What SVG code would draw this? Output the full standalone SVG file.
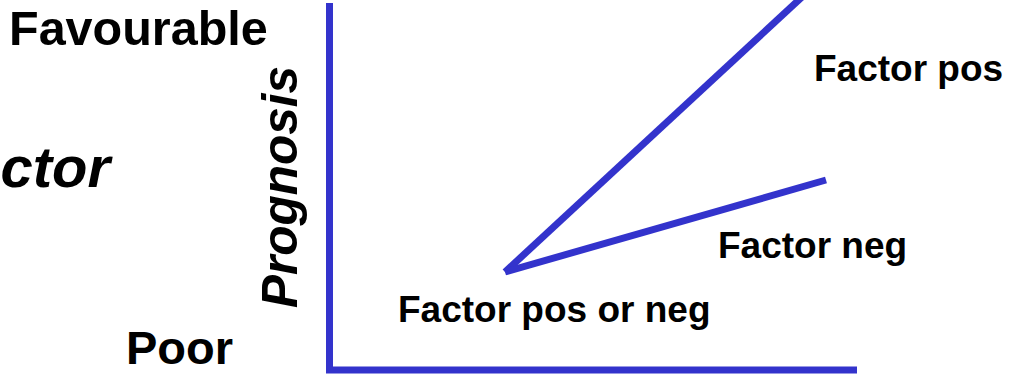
<svg xmlns="http://www.w3.org/2000/svg" width="1014" height="374" viewBox="0 0 1014 374">
<style>
text{font-family:"Liberation Sans",Arial,sans-serif;font-weight:bold;fill:#000}
.big{font-size:47px}
.lab{font-size:37px}
.it{font-style:italic}
.ax{stroke:#3333cc;stroke-width:7;fill:none}
</style>
<rect width="1014" height="374" fill="#fff"/>
<g id="connectors">
<polyline class="ax" points="329.5,3 329.5,370 857,370"/>
<line class="ax" x1="505" y1="272" x2="802" y2="-3"/>
<line class="ax" x1="505" y1="272" x2="826" y2="180"/>
</g>
<g id="favourable"><text class="big" x="9" y="45" style="font-size:48.5px">Favourable</text></g>
<g id="poor"><text class="big" x="126" y="364">Poor</text></g>
<g id="factor"><text class="big it" x="110" y="187" text-anchor="end" style="font-size:58px">ctor</text></g>
<g id="prognosis"><text class="big it" transform="translate(297,187) rotate(-90)" text-anchor="middle" style="font-size:49.5px">Prognosis</text></g>
<g id="factor-pos"><text class="lab" x="814" y="81">Factor pos</text></g>
<g id="factor-neg"><text class="lab" x="718" y="258">Factor neg</text></g>
<g id="factor-pos-or-neg"><text class="lab" x="398" y="322">Factor pos or neg</text></g>
</svg>
